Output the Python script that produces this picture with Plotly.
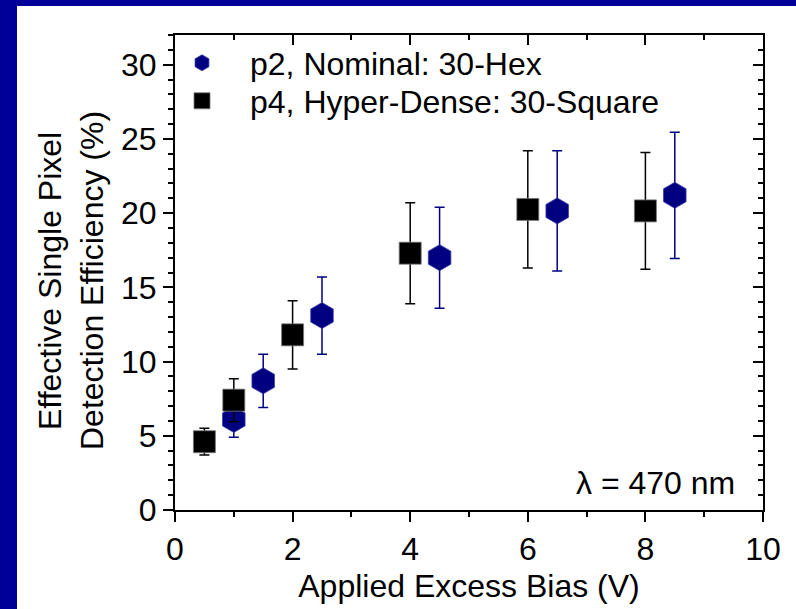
import plotly.graph_objects as go

# ---- data ----
p2_x = [1, 1.5, 2.5, 4.5, 6.5, 8.5]
p2_y = [6.1, 8.7, 13.1, 17.0, 20.15, 21.2]
p2_err = [1.2, 1.8, 2.6, 3.4, 4.05, 4.25]

p4_x = [0.5, 1, 2, 4, 6, 8]
p4_y = [4.6, 7.4, 11.8, 17.3, 20.25, 20.15]
p4_err = [0.9, 1.45, 2.3, 3.4, 3.95, 3.93]

p2_name = "p2, Nominal: 30-Hex"
p4_name = "p4, Hyper-Dense: 30-Square"
x_title = "Applied Excess Bias (V)"
y_title_lines = ["Effective Single Pixel", "Detection Efficiency (%)"]
note = "λ = 470 nm"

# ---- layout constants ----
W, H = 796, 609
L, R, T, B = 175, 33, 35, 99
PW, PH = W - L - R, H - T - B
FONT = "Arial, Liberation Sans, sans-serif"
FS = 32
NAVY = "#000080"
FRAME = "#000099"


def px_to_paper_x(px):
    return (px - L) / PW


def px_to_paper_y(py):
    return (H - B - py) / PH


fig = go.Figure()

fig.add_trace(go.Scatter(
    x=p2_x, y=p2_y, mode="markers", name=p2_name, legend="legend",
    marker=dict(symbol="hexagon", size=26, color=NAVY,
                line=dict(width=1, color="rgba(60,60,170,0.8)")),
    error_y=dict(type="data", array=p2_err, visible=True,
                 color=NAVY, thickness=1.5, width=5),
))
fig.add_trace(go.Scatter(
    x=p4_x, y=p4_y, mode="markers", name=p4_name, legend="legend2",
    marker=dict(symbol="square", size=22, color="black",
                line=dict(width=1, color="rgba(120,120,120,0.8)")),
    error_y=dict(type="data", array=p4_err, visible=True,
                 color="black", thickness=1.5, width=5),
))
# helper trace to activate mirror axes (top / right)
fig.add_trace(go.Scatter(x=[], y=[], xaxis="x2", yaxis="y2",
                         showlegend=False, hoverinfo="skip"))

axis_common = dict(showline=True, linecolor="black", linewidth=2,
                   showgrid=False, zeroline=False,
                   tickcolor="black", tickwidth=2, ticklen=10)

legend_common = dict(xanchor="left", yanchor="middle",
                     bgcolor="rgba(0,0,0,0)", borderwidth=0,
                     itemwidth=86,
                     font=dict(family=FONT, size=FS, color="black"))

fig.update_layout(
    width=W, height=H,
    margin=dict(l=L, r=R, t=T, b=B, pad=0),
    paper_bgcolor="white", plot_bgcolor="white",
    font=dict(family=FONT, size=FS, color="black"),
    showlegend=True,
    legend=dict(x=px_to_paper_x(154), y=px_to_paper_y(63), **legend_common),
    legend2=dict(x=px_to_paper_x(154), y=px_to_paper_y(101), **legend_common),
    xaxis=dict(range=[0, 10], dtick=2, tick0=0, ticks="outside",
               minor=dict(dtick=1, ticks="outside", ticklen=5,
                          tickwidth=2, tickcolor="black"),
               title=dict(text=x_title, standoff=8,
                          font=dict(family=FONT, size=FS)),
               tickfont=dict(family=FONT, size=FS),
               **axis_common),
    yaxis=dict(range=[0, 32], dtick=5, tick0=0, ticks="outside",
               minor=dict(dtick=1, ticks="outside", ticklen=5,
                          tickwidth=2, tickcolor="black"),
               tickfont=dict(family=FONT, size=FS),
               **axis_common),
    xaxis2=dict(range=[0, 10], dtick=2, tick0=0, overlaying="x",
                side="top", ticks="inside", showticklabels=False,
                minor=dict(dtick=1, ticks="inside", ticklen=5,
                           tickwidth=2, tickcolor="black"),
                **axis_common),
    yaxis2=dict(range=[0, 32], dtick=5, tick0=0, overlaying="y",
                side="right", ticks="inside", showticklabels=False,
                minor=dict(dtick=1, ticks="inside", ticklen=5,
                           tickwidth=2, tickcolor="black"),
                **axis_common),
)

# y-axis title as two rotated lines
for text, cx in zip(y_title_lines, [50, 92]):
    fig.add_annotation(text=text, textangle=-90, showarrow=False,
                       xref="paper", yref="paper",
                       x=px_to_paper_x(cx), y=px_to_paper_y(281),
                       xanchor="center", yanchor="middle",
                       font=dict(family=FONT, size=FS, color="black"))

fig.add_annotation(text=note, showarrow=False, xref="paper", yref="paper",
                   x=px_to_paper_x(737), y=px_to_paper_y(483),
                   xanchor="right", yanchor="middle",
                   font=dict(family=FONT, size=FS, color="black"))

# blue frame strips (left and top)
fig.add_shape(type="rect", xref="paper", yref="paper", layer="below",
              x0=px_to_paper_x(-5), x1=px_to_paper_x(17),
              y0=px_to_paper_y(H + 5), y1=px_to_paper_y(-5),
              fillcolor=FRAME, line=dict(width=0))
fig.add_shape(type="rect", xref="paper", yref="paper", layer="below",
              x0=px_to_paper_x(-5), x1=px_to_paper_x(W + 5),
              y0=px_to_paper_y(6), y1=px_to_paper_y(-5),
              fillcolor=FRAME, line=dict(width=0))

fig.write_html("out.html",
               config={"displayModeBar": False},
               post_script="document.body.style.margin='0px';"
                           "document.body.style.overflow='hidden';")
